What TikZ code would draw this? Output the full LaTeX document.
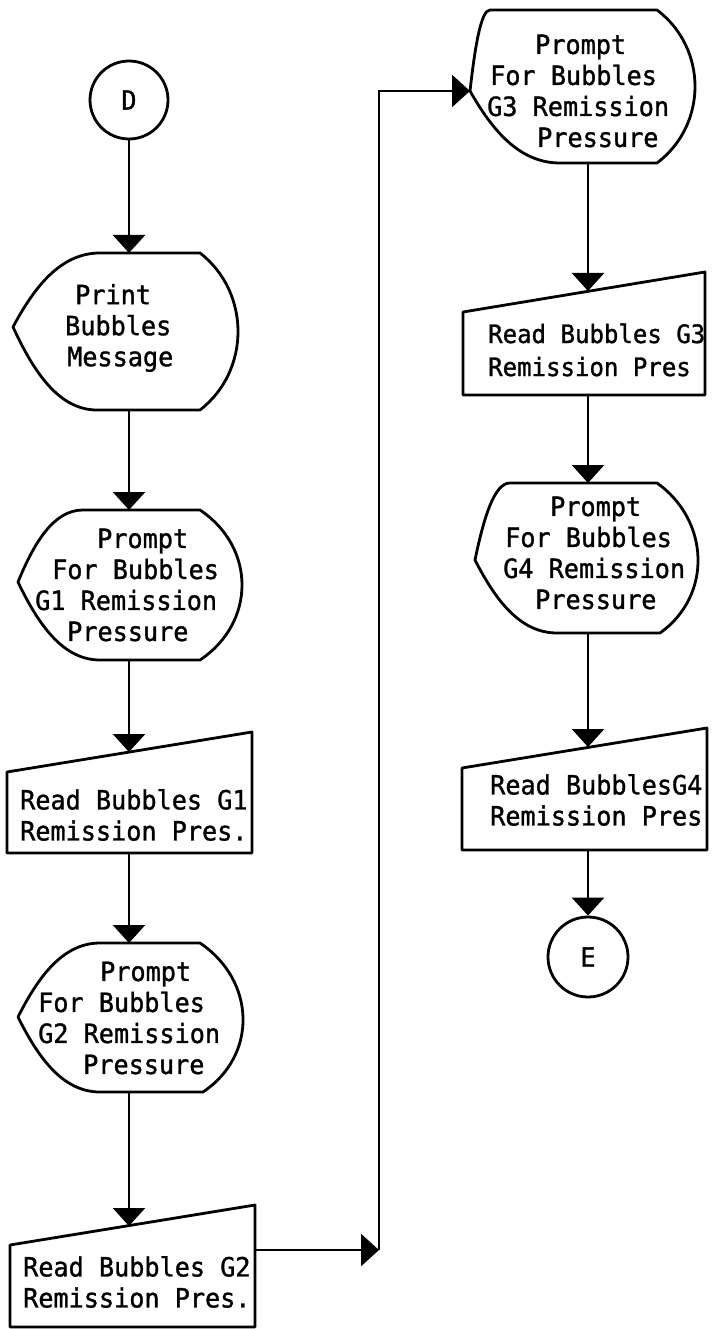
\documentclass[tikz,border=0pt]{standalone}
\usepackage{fontspec}
\setmainfont{DejaVu Sans Mono}[FakeBold=1.2, FakeStretch=0.95]
\usetikzlibrary{arrows.meta}

\tikzset{
  x=1pt, y=-1pt,
  shapeline/.style={line width=2.8pt, line join=round},
  flowline/.style={line width=2.6pt},
  flowarrow/.style={flowline, -{Triangle[width=32pt,length=18pt]}},
  blocktext/.style={anchor=west, inner sep=0pt, align=left,
                    font=\fontsize{26.5}{31}\selectfont},
  terminal/.style={circle, draw, line width=2.8pt, inner sep=0pt,
                   font=\fontsize{26.5}{31}\selectfont},
}

% Display symbol: pointed left end, straight top and bottom, rounded right end.
% #1,#2 left point; #3 top y; #4 bottom y; #5 top-left x; #6 bottom-left x;
% #7 top-right x; #8 bottom-right x; #9 rightmost x
\newcommand{\dispshape}[9]{%
  \pgfmathsetmacro\dsH{#4-#3}%
  \pgfmathsetmacro\dsA{#1+0.25*(#5-#1)}%
  \pgfmathsetmacro\dsB{#2-0.55*(#2-#3)}%
  \pgfmathsetmacro\dsC{#1+0.55*(#5-#1)}%
  \pgfmathsetmacro\dsD{#1+0.55*(#6-#1)}%
  \pgfmathsetmacro\dsE{#1+0.25*(#6-#1)}%
  \pgfmathsetmacro\dsF{#2+0.55*(#4-#2)}%
  \pgfmathsetmacro\dsG{#7+(#9-(#7+#8)/2)/0.75}%
  \pgfmathsetmacro\dsI{#3+0.25*\dsH}%
  \pgfmathsetmacro\dsL{#8+(#9-(#7+#8)/2)/0.75}%
  \pgfmathsetmacro\dsM{#4-0.25*\dsH}%
  \draw[shapeline] (#1,#2) .. controls (\dsA,\dsB) and (\dsC,#3) .. (#5,#3) -- (#7,#3)
     .. controls (\dsG,\dsI) and (\dsL,\dsM) .. (#8,#4) -- (#6,#4)
     .. controls (\dsD,#4) and (\dsE,\dsF) .. (#1,#2) -- cycle;
}

\begin{document}
\begin{tikzpicture}
\fill[white] (0,0) rectangle (713,1329);
\useasboundingbox (0,0) rectangle (713,1329);

% ---------- left column ----------
\node[terminal, minimum size=78pt] (d) at (129,100) {D};

\dispshape{13}{327}{253}{410}{100}{97}{200}{200}{238}
\node[blocktext] (print-txt) at (65,328)
  {\hspace*{10pt}Print\\Bubbles\\\hspace*{2pt}Message};
\coordinate (print-in) at (129,253);
\coordinate (print-out) at (129,410);

\dispshape{18}{582}{510}{660}{83}{100}{200}{200}{242}
\node[blocktext] (g1-txt) at (35,585)
  {\hspace*{62pt}Prompt\\\hspace*{17pt}For Bubbles\\G1 Remission\\\hspace*{32pt}Pressure};
\coordinate (g1-in) at (129,510);
\coordinate (g1-out) at (129,660);

\draw[shapeline] (7,772) -- (252,732) -- (252,853) -- (7,853) -- cycle;
\node[blocktext] (r1-txt) at (20,815) {Read Bubbles G1\\Remission Pres.};
\coordinate (r1-in) at (129,752);
\coordinate (r1-out) at (129,853);

\dispshape{18}{1017}{943}{1092}{100}{100}{200}{203}{243}
\node[blocktext] (g2-txt) at (38,1018)
  {\hspace*{62pt}Prompt\\For Bubbles\\G2 Remission\\\hspace*{45pt}Pressure};
\coordinate (g2-in) at (129,943);
\coordinate (g2-out) at (129,1092);

\draw[shapeline] (10,1245) -- (255,1205) -- (255,1327) -- (10,1327) -- cycle;
\node[blocktext] (r2-txt) at (23,1282) {Read Bubbles G2\\Remission Pres.};
\coordinate (r2-in) at (129,1226);
\coordinate (r2-out) at (255,1250);

% ---------- crossover ----------
\coordinate (turn-low) at (379,1250);
\coordinate (turn-high) at (379,91);

% ---------- right column ----------
\dispshape{470}{91}{10}{163}{490}{560}{657}{657}{695}
\node[blocktext] (g3-txt) at (487,91)
  {\hspace*{48pt}Prompt\\\hspace*{3pt}For Bubbles\\G3 Remission\\\hspace*{50pt}Pressure};
\coordinate (g3-in) at (470,91);
\coordinate (g3-out) at (588,163);

\draw[shapeline] (463,312) -- (705,272) -- (705,395) -- (463,395) -- cycle;
\node[blocktext, font=\fontsize{25.3}{33}\selectfont] (r3-txt) at (488,350)
  {Read Bubbles G3\\Remission Pres};
\coordinate (r3-in) at (588,291);
\coordinate (r3-out) at (588,395);

\dispshape{475}{560}{483}{633}{510}{557}{657}{660}{698}
\node[blocktext] (g4-txt) at (503,553)
  {\hspace*{47pt}Prompt\\\hspace*{2pt}For Bubbles\\G4 Remission\\\hspace*{32pt}Pressure};
\coordinate (g4-in) at (588,483);
\coordinate (g4-out) at (588,633);

\draw[shapeline] (462,768) -- (707,728) -- (707,850) -- (462,850) -- cycle;
\node[blocktext] (r4-txt) at (490,800) {Read BubblesG4\\Remission Pres};
\coordinate (r4-in) at (588,747);
\coordinate (r4-out) at (588,850);

\node[terminal, minimum size=80pt] (e) at (588,957) {E};

% ---------- flow lines ----------
\draw[flowarrow] (d) -- (print-in);
\draw[flowarrow] (print-out) -- (g1-in);
\draw[flowarrow] (g1-out) -- (r1-in);
\draw[flowarrow] (r1-out) -- (g2-in);
\draw[flowarrow] (g2-out) -- (r2-in);
\draw[flowarrow] (r2-out) -- (turn-low);
\draw[flowarrow] (turn-low) -- (turn-high) -- (g3-in);
\draw[flowarrow] (g3-out) -- (r3-in);
\draw[flowarrow] (r3-out) -- (g4-in);
\draw[flowarrow] (g4-out) -- (r4-in);
\draw[flowarrow] (r4-out) -- (e);
\end{tikzpicture}
\end{document}
